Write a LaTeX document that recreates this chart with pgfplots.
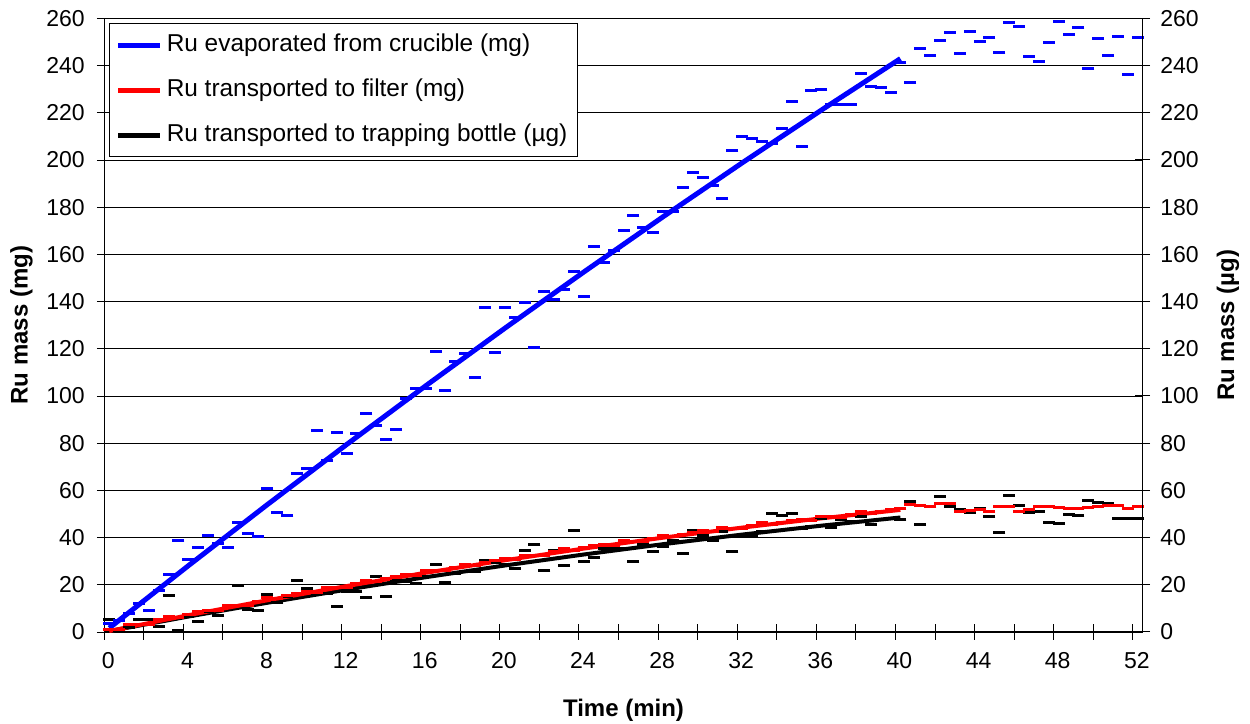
\documentclass[border=0pt]{standalone}
\usepackage{fontspec}
\setmainfont{Liberation Sans}
\usepackage{pgfplots}
\pgfplotsset{compat=1.18}
\definecolor{xlblue}{RGB}{0,0,255}
\definecolor{xlred}{RGB}{255,0,0}
\begin{document}
\begin{tikzpicture}
\useasboundingbox (-52.15pt,-46pt) rectangle (572.85pt,316pt);
\pgfplotsset{
  base/.style={
    scale only axis, width=519.2pt, height=306.8pt,
    at={(0,0)}, anchor=south west,
    xmin=0, xmax=52.5, ymin=0, ymax=260,
    tick align=center, major tick length=7.5pt, minor tick length=7.5pt,
    every tick/.style={black, line width=0.5pt},
    ticklabel style={font=\fontsize{11.5}{13}\selectfont},
    /pgf/number format/assume math mode=true,
    label style={font=\bfseries\fontsize{12}{14}\selectfont},
  }
}
\begin{axis}[base,
  axis line style={black, line width=0.6pt},
  xtick pos=bottom, ytick pos=left,
  xtick={0,4,...,52}, minor xtick={2,6,...,50},
  ytick={0,20,...,260},
  xticklabel style={xshift=2pt, yshift=-3pt},
  yticklabel style={xshift=-2.5pt},
  ymajorgrids, grid style={black, line width=0.5pt},
  xlabel={Time (min)}, ylabel={Ru mass (mg)},
  xlabel style={at={(axis description cs:0.5,-0.127)}, anchor=center},
  ylabel style={at={(axis description cs:-0.0797,0.5)}, anchor=center},
  legend style={at={(0,1)}, anchor=north west, xshift=2.5pt, yshift=-2.5pt,
    draw=black, line width=0.5pt, font=\fontsize{12.2}{14}\selectfont,
    inner xsep=3pt, inner ysep=3.5pt, row sep=8pt,
    nodes={inner sep=2pt, text height=8.5pt, text depth=2pt}},
  legend cell align=left,
  legend image code/.code={\draw[#1] (0pt,0pt) -- (21pt,0pt);},
]
\addlegendimage{xlblue, line width=2.5pt}
\addlegendentry{Ru evaporated from crucible (mg)}
\addlegendimage{xlred, line width=2.5pt}
\addlegendentry{Ru transported to filter (mg)}
\addlegendimage{black, line width=2.5pt}
\addlegendentry{Ru transported to trapping bottle (µg)}

% black markers
\addplot[forget plot, only marks, mark=-, mark size=3pt, black, mark options={line width=1.5pt}] table {
t y
0.25 5.1
0.75 0.6
1.25 1.7
1.75 5.1
2.25 5.1
2.75 2.5
3.25 15.4
3.75 0.6
4.25 6.5
4.75 4.4
5.25 8.5
5.75 6.8
6.25 11.4
6.75 19.5
7.25 9.6
7.75 9.0
8.25 16.1
8.75 12.6
9.25 15.0
9.75 21.7
10.25 18.3
10.75 16.4
11.25 16.4
11.75 11.0
12.25 17.1
12.75 17.1
13.25 14.7
13.75 23.7
14.25 15.0
14.75 22.0
15.25 21.5
15.75 20.6
16.25 23.5
16.75 28.8
17.25 20.9
17.75 24.9
18.25 25.5
18.75 25.5
19.25 30.5
19.75 29.4
20.25 28.4
20.75 27.0
21.25 34.7
21.75 37.0
22.25 26.0
22.75 34.4
23.25 28.1
23.75 42.8
24.25 29.8
24.75 31.5
25.25 35.5
25.75 35.5
26.25 35.5
26.75 29.8
27.25 36.9
27.75 34.2
28.25 36.4
28.75 38.7
29.25 33.1
29.75 43.2
30.25 41.1
30.75 38.7
31.25 42.7
31.75 34.2
32.25 40.4
32.75 40.4
33.25 42.7
33.75 50.1
34.25 49.2
34.75 50.3
35.25 44.0
35.75 44.6
36.25 48.2
36.75 44.4
37.25 47.5
37.75 46.7
38.25 48.9
38.75 45.6
39.25 47.5
39.75 48.2
40.25 47.5
40.75 55.1
41.25 45.6
41.75 53.1
42.25 57.6
42.75 53.1
43.25 52.0
43.75 50.6
44.25 52.4
44.75 48.9
45.25 42.2
45.75 57.9
46.25 53.7
46.75 50.6
47.25 51.0
47.75 46.5
48.25 46.0
48.75 49.7
49.25 49.2
49.75 55.6
50.25 54.8
50.75 54.5
51.25 47.9
51.75 47.9
52.25 47.9
};

% red markers
\addplot[forget plot, only marks, mark=-, mark size=3pt, xlred, mark options={line width=1.5pt}] table {
t y
0.25 1.0
0.75 1.0
1.25 3.0
1.75 3.2
2.25 3.3
2.75 5.1
3.25 6.5
3.75 6.1
4.25 7.4
4.75 8.6
5.25 9.3
5.75 9.2
6.25 11.2
6.75 11.3
7.25 11.4
7.75 13.1
8.25 14.5
8.75 14.0
9.25 15.3
9.75 16.4
10.25 17.1
10.75 16.9
11.25 18.9
11.75 18.9
12.25 19.0
12.75 20.6
13.25 21.9
13.75 21.4
14.25 22.6
14.75 23.7
15.25 24.3
15.75 24.1
16.25 26.0
16.75 26.0
17.25 26.0
17.75 27.5
18.25 28.8
18.75 28.3
19.25 29.4
19.75 30.5
20.25 31.0
20.75 30.7
21.25 32.6
21.75 32.5
22.25 32.4
22.75 33.9
23.25 35.2
23.75 34.6
24.25 35.7
24.75 36.7
25.25 37.1
25.75 36.8
26.25 38.6
26.75 38.5
27.25 38.4
27.75 39.8
28.25 41.0
28.75 40.3
29.25 41.4
29.75 42.3
30.25 42.8
30.75 42.4
31.25 44.1
31.75 43.9
32.25 43.7
32.75 45.2
33.25 46.3
33.75 45.6
34.25 46.5
34.75 47.4
35.25 47.8
35.75 47.4
36.25 49.1
36.75 48.8
37.25 48.6
37.75 49.9
38.25 51.0
38.75 50.2
39.25 51.2
39.75 52.0
40.25 52.3
40.75 54.0
41.25 53.6
41.75 53.2
42.25 54.6
42.75 54.6
43.25 51.2
43.75 51.6
44.25 52.0
44.75 51.0
45.25 53.2
45.75 53.2
46.25 51.2
46.75 51.8
47.25 53.0
47.75 53.0
48.25 52.8
48.75 52.4
49.25 52.4
49.75 52.8
50.25 53.2
50.75 53.8
51.25 53.6
51.75 52.4
52.25 53.0
};

% blue markers
\addplot[forget plot, only marks, mark=-, mark size=3pt, xlblue, mark options={line width=1.5pt}] table {
t y
0.25 3.5
0.75 5.0
1.25 8.0
1.75 12.0
2.25 9.0
2.75 17.7
3.25 24.2
3.75 38.6
4.25 30.8
4.75 36.0
5.25 40.8
5.75 37.4
6.25 36.0
6.75 46.2
7.25 41.7
7.75 40.3
8.25 61.0
8.75 50.6
9.25 49.2
9.75 67.1
10.25 69.1
10.75 85.2
11.25 72.5
11.75 84.4
12.25 75.6
12.75 84.1
13.25 92.6
13.75 87.5
14.25 81.4
14.75 85.8
15.25 99.1
15.75 103.0
16.25 103.3
16.75 118.7
17.25 102.2
17.75 114.8
18.25 118.2
18.75 107.8
19.25 137.5
19.75 118.6
20.25 137.4
20.75 133.3
21.25 139.5
21.75 120.6
22.25 144.3
22.75 140.8
23.25 145.0
23.75 152.8
24.25 142.2
24.75 163.3
25.25 156.5
25.75 161.5
26.25 170.0
26.75 176.4
27.25 171.5
27.75 169.2
28.25 178.0
28.75 178.0
29.25 188.4
29.75 194.8
30.25 192.7
30.75 189.0
31.25 183.5
31.75 204.0
32.25 209.8
32.75 208.9
33.25 207.9
33.75 207.1
34.25 213.3
34.75 225.0
35.25 205.8
35.75 229.4
36.25 230.0
36.75 223.5
37.25 223.4
37.75 223.5
38.25 236.8
38.75 231.3
39.25 230.8
39.75 228.7
40.25 241.4
40.75 232.8
41.25 247.1
41.75 244.3
42.25 250.6
42.75 254.0
43.25 245.1
43.75 254.3
44.25 250.2
44.75 251.8
45.25 245.4
45.75 258.3
46.25 256.6
46.75 243.8
47.25 241.7
47.75 249.8
48.25 258.7
48.75 253.0
49.25 256.3
49.75 238.6
50.25 251.6
50.75 244.1
51.25 252.5
51.75 236.4
52.25 251.9
};

% fitted lines
\addplot[forget plot, black, line width=2pt] table {
t y
0.25 0.39
4.25 6.55
8.25 12.40
12.25 17.96
16.25 23.22
20.25 28.18
24.25 32.85
28.25 37.21
32.25 41.28
36.25 45.05
40.25 48.52
};
\addplot[forget plot, xlred, line width=2pt] table {
t y
0.25 0.43
4.25 7.12
8.25 13.46
12.25 19.45
16.25 25.10
20.25 30.40
24.25 35.36
28.25 39.97
32.25 44.24
36.25 48.16
40.25 51.73
};
\addplot[forget plot, xlblue, line width=2.5pt] table {
t y
0.25 1.67
4.25 28.10
8.25 54.02
12.25 79.43
16.25 104.32
20.25 128.71
24.25 152.58
28.25 175.94
32.25 198.79
36.25 221.12
40.25 242.95
};
\end{axis}
\begin{axis}[base,
  axis x line=none, axis y line*=right,
  axis line style={black, line width=0.6pt},
  ytick={0,20,...,260},
  yticklabel style={xshift=1.5pt},
  ylabel={Ru mass (µg)},
  ylabel style={at={(axis description cs:1.0822,0.5)}, anchor=center},
]
\end{axis}
\end{tikzpicture}
\end{document}
